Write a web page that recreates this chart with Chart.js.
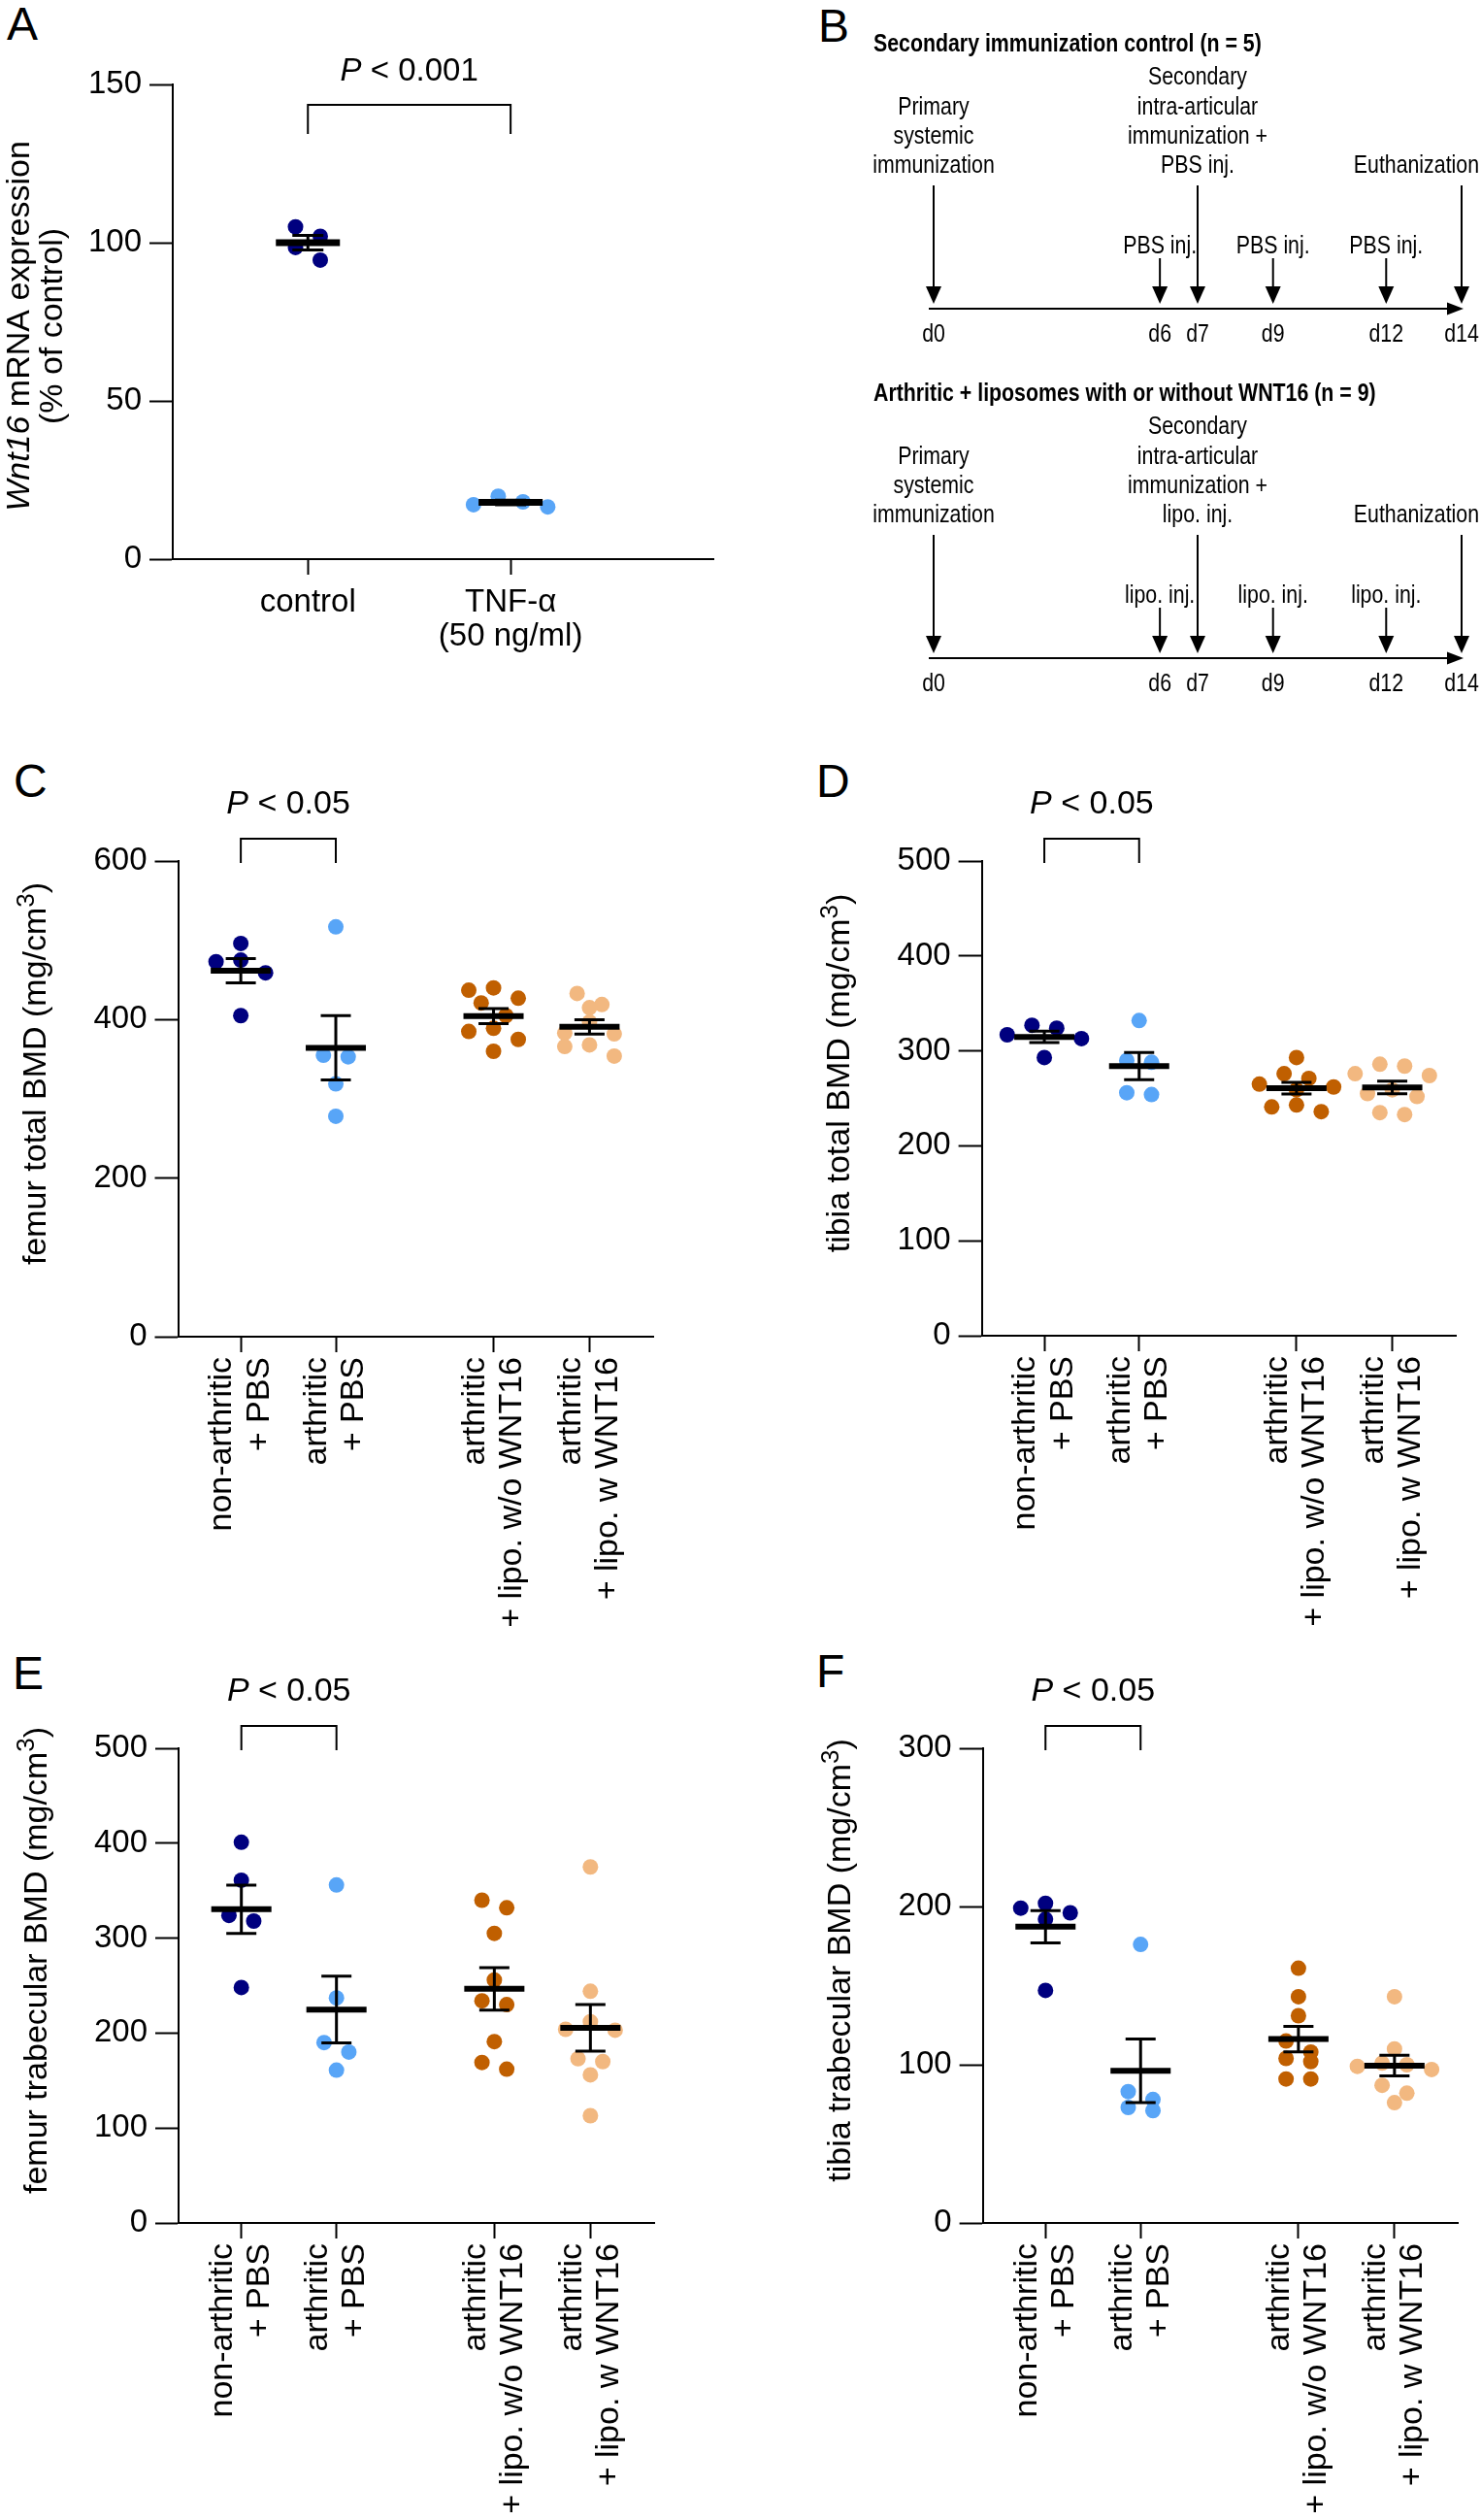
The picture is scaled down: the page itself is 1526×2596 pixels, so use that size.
<!DOCTYPE html>
<html>
<head>
<meta charset="utf-8">
<script src="https://cdn.jsdelivr.net/npm/chart.js@4.4.1/dist/chart.umd.min.js"></script>
<style>
  html, body { margin: 0; padding: 0; background: #fff; }
  body { width: 1526px; height: 2596px; position: relative; overflow: hidden;
         font-family: 'Liberation Sans', Arial, Helvetica, sans-serif; }
  canvas { position: absolute; }
  .letter { position: absolute; font-size: 48px; line-height: 48px; color: #000; }
</style>
</head>
<body>
<div class="letter" style="left:7px;top:1px">A</div>
<div class="letter" style="left:843px;top:3px">B</div>
<div class="letter" style="left:14px;top:781px">C</div>
<div class="letter" style="left:841px;top:781px">D</div>
<div class="letter" style="left:13px;top:1700px">E</div>
<div class="letter" style="left:841px;top:1698px">F</div>

<canvas id="chartA" width="780" height="720" style="left:0;top:0"></canvas>
<canvas id="chartB" width="686" height="740" style="left:840px;top:0"></canvas>
<canvas id="chartC" width="760" height="920" style="left:0;top:760px"></canvas>
<canvas id="chartD" width="766" height="920" style="left:760px;top:760px"></canvas>
<canvas id="chartE" width="760" height="916" style="left:0;top:1680px"></canvas>
<canvas id="chartF" width="766" height="916" style="left:760px;top:1680px"></canvas>

<script>
// ---- data ----
// panel A: Wnt16 mRNA (% of control)
const aCategories = ['control', ['TNF-α', '(50 ng/ml)']];
const aControl = [102, 105, 94.5, 98.5];
const aTnfAlpha = [19.9, 16.5, 18.1, 17.2];
const aTicks = [0, 50, 100, 150];

// panels C-F: group labels
const bmdCategories = [
  ['non-arthritic', '+ PBS'],
  ['arthritic', '+ PBS'],
  ['arthritic', '+ lipo. w/o WNT16'],
  ['arthritic', '+ lipo. w WNT16']
];

// C: femur total BMD
const femurTotalNonArth = [496, 475, 473, 459, 405];
const femurTotalArth = [517, 355, 353, 319, 278];
const femurTotalLipo = [440, 437, 427, 421, 405, 389, 385, 375, 360];
const femurTotalLipoWnt = [433, 419, 415, 397, 383, 382, 368, 366, 354];
const femurTotalTicks = [0, 200, 400, 600];

// D: tibia total BMD
const tibiaTotalNonArth = [327, 324, 317, 313, 293];
const tibiaTotalArth = [332, 290, 288, 256, 254];
const tibiaTotalLipo = [293, 276, 271, 265, 262, 259, 243, 241, 236];
const tibiaTotalLipoWnt = [286, 284, 276, 274, 259, 255, 252, 235, 233];
const tibiaTotalTicks = [0, 100, 200, 300, 400, 500];

// E: femur trabecular BMD
const femurTrabNonArth = [401, 361, 324, 318, 248];
const femurTrabArth = [356, 237, 190, 180, 161];
const femurTrabLipo = [340, 332, 305, 256, 234, 230, 191, 169, 162];
const femurTrabLipoWnt = [375, 244, 212, 204, 203, 173, 170, 156, 113];
const femurTrabTicks = [0, 100, 200, 300, 400, 500];

// F: tibia trabecular BMD
const tibiaTrabNonArth = [202, 199, 196, 192, 147];
const tibiaTrabArth = [176, 83, 78, 73, 71];
const tibiaTrabLipo = [161, 143, 131, 115, 108, 104, 102, 91, 91];
const tibiaTrabLipoWnt = [143, 110, 101, 100, 99, 97, 87, 82, 76];
const tibiaTrabTicks = [0, 100, 200, 300];

// B: timeline
const timelineDays = [0, 6, 7, 9, 12, 14];
const dayLabels = ['d0', 'd6', 'd7', 'd9', 'd12', 'd14'];
const majorDays = [0, 7, 14];
const minorDays = [6, 9, 12];
const timelineTitles = ['Secondary immunization control (n = 5)',
                        'Arthritic + liposomes with or without WNT16 (n = 9)'];
const minorLabels = ['PBS inj.', 'lipo. inj.'];
const primaryText = ['Primary', 'systemic', 'immunization'];
const secondaryText = [
  ['Secondary', 'intra-articular', 'immunization +', 'PBS inj.'],
  ['Secondary', 'intra-articular', 'immunization +', 'lipo. inj.']
];
const endText = 'Euthanization';

// ---- styling ----
const FONT = "'Liberation Sans', Arial, Helvetica, sans-serif";
const groupColors = ['#00007f', '#58a5f7', '#c05f00', '#f2b880'];
Chart.defaults.font.family = FONT;
Chart.defaults.color = '#000';

function segFont(seg, size) {
  const s = seg.sup ? Math.round(size * 0.76) : size;
  return (seg.italic ? 'italic ' : '') + s + 'px ' + FONT;
}

function drawSegments(ctx, segs, cx, y, size) {
  let total = 0;
  segs.forEach(seg => { ctx.font = segFont(seg, size); seg.w = ctx.measureText(seg.t).width; total += seg.w; });
  let x = cx - total / 2;
  ctx.textAlign = 'left';
  ctx.textBaseline = 'alphabetic';
  ctx.fillStyle = '#000';
  segs.forEach(seg => {
    ctx.font = segFont(seg, size);
    ctx.fillText(seg.t, x, seg.sup ? y - size * 0.36 : y);
    x += seg.w;
  });
}

// spread points that share a height sideways, like a column scatter
function slotOrder(k) {
  const o = [];
  if (k % 2) { o.push(0); for (let i = 1; o.length < k; i++) o.push(-i, i); }
  else { for (let i = 0.5; o.length < k; i++) o.push(-i, i); }
  return o.slice(0, k);
}

function swarm(chart) {
  const xs = chart.scales.x, ys = chart.scales.y;
  const slot = 25.5, rowTol = 14;
  chart.data.datasets.forEach(ds => {
    const cx = xs.getPixelForValue(ds.groupX);
    const sorted = ds.values.slice().sort((a, b) => b - a);
    const rows = [];
    sorted.forEach(v => {
      const py = ys.getPixelForValue(v);
      const row = rows[rows.length - 1];
      if (row && py - row.top < rowTol) row.items.push(v);
      else rows.push({ top: py, items: [v] });
    });
    const pts = [];
    rows.forEach(row => {
      const order = slotOrder(row.items.length);
      row.items.forEach((v, i) => pts.push({ x: xs.getValueForPixel(cx + order[i] * slot), y: v }));
    });
    ds.data = pts;
  });
  chart.update('none');
}

// mean bar + SEM whiskers
const meanSemPlugin = {
  id: 'meanSem',
  afterDatasetsDraw(chart, args, o) {
    const { ctx } = chart;
    const xs = chart.scales.x, ys = chart.scales.y;
    chart.data.datasets.forEach(ds => {
      const n = ds.values.length;
      const mean = ds.values.reduce((s, v) => s + v, 0) / n;
      const sd = Math.sqrt(ds.values.reduce((s, v) => s + (v - mean) ** 2, 0) / (n - 1));
      const sem = sd / Math.sqrt(n);
      const cx = xs.getPixelForValue(ds.groupX);
      const ym = ys.getPixelForValue(mean);
      const yt = ys.getPixelForValue(mean + sem);
      const yb = ys.getPixelForValue(mean - sem);
      ctx.save();
      ctx.strokeStyle = '#000';
      ctx.lineWidth = 3;
      ctx.beginPath();
      ctx.moveTo(cx, yt); ctx.lineTo(cx, yb);
      ctx.moveTo(cx - o.cap, yt); ctx.lineTo(cx + o.cap, yt);
      ctx.moveTo(cx - o.cap, yb); ctx.lineTo(cx + o.cap, yb);
      ctx.stroke();
      ctx.lineWidth = o.barWidth;
      ctx.beginPath();
      ctx.moveTo(cx - o.half, ym); ctx.lineTo(cx + o.half, ym);
      ctx.stroke();
      ctx.restore();
    });
  }
};

// y title, significance bracket and P text
const annotPlugin = {
  id: 'annot',
  afterDraw(chart, args, o) {
    const { ctx, chartArea } = chart;
    const xs = chart.scales.x;
    const t = o.title;
    ctx.save();
    ctx.translate(chartArea.left - t.dx, (chartArea.top + chartArea.bottom) / 2 + t.dy);
    ctx.rotate(-Math.PI / 2);
    t.lines.forEach((segs, i) => drawSegments(ctx, segs, 0, i * t.gap, t.size));
    ctx.restore();

    const b = o.bracket;
    const x1 = xs.getPixelForValue(b.from), x2 = xs.getPixelForValue(b.to);
    const yTop = chartArea.top + b.top, yLeg = chartArea.top + b.leg;
    ctx.save();
    ctx.strokeStyle = '#000';
    ctx.lineWidth = 2;
    ctx.beginPath();
    ctx.moveTo(x1, yLeg); ctx.lineTo(x1, yTop); ctx.lineTo(x2, yTop); ctx.lineTo(x2, yLeg);
    ctx.stroke();
    drawSegments(ctx, [{ t: 'P', italic: true }, { t: b.label }], (x1 + x2) / 2, chartArea.top + b.text, b.size);
    ctx.restore();
  }
};

function buildScatter(id, box, groups, colors, groupX, labels, ticks, xMax, rot, title, bracket, bars, fontSize) {
  const canvas = document.getElementById(id);
  const datasets = groups.map((vals, i) => ({
    values: vals,
    groupX: groupX[i],
    data: vals.map(v => ({ x: groupX[i], y: v })),
    backgroundColor: colors[i],
    borderWidth: 0,
    pointRadius: 8,
    pointHoverRadius: 8
  }));
  const chart = new Chart(canvas, {
    type: 'scatter',
    data: { datasets },
    options: {
      responsive: false,
      animation: false,
      events: [],
      layout: { padding: { top: box.top, right: canvas.width - box.right, left: 0, bottom: 0 } },
      plugins: {
        legend: { display: false },
        tooltip: { enabled: false },
        annot: { title, bracket },
        meanSem: bars
      },
      scales: {
        x: {
          type: 'linear', min: 0, max: xMax,
          afterBuildTicks: s => { s.ticks = groupX.map(v => ({ value: v })); },
          afterFit: s => { s.height = canvas.height - box.bottom; },
          ticks: {
            callback: (v, i) => labels[i], autoSkip: false,
            minRotation: rot, maxRotation: rot, padding: fontSize.xPad, labelOffset: fontSize.xShift,
            font: { size: fontSize.x, lineHeight: fontSize.xLine }, color: '#000'
          },
          grid: { drawOnChartArea: false, drawTicks: true, tickLength: 16, tickWidth: 2, color: '#000' },
          border: { display: true, width: 2, color: '#000' }
        },
        y: {
          min: 0, max: ticks[ticks.length - 1],
          afterBuildTicks: s => { s.ticks = ticks.map(v => ({ value: v })); },
          afterFit: s => { s.width = box.left; },
          ticks: { font: { size: fontSize.y }, padding: 8, color: '#000' },
          grid: { drawOnChartArea: false, drawTicks: true, tickLength: 24, tickWidth: 2, color: '#000' },
          border: { display: true, width: 2, color: '#000' }
        }
      }
    },
    plugins: [annotPlugin, meanSemPlugin]
  });
  swarm(chart);
  return chart;
}

// ---- panel A ----
buildScatter('chartA', { left: 178, right: 735, top: 87, bottom: 576 },
  [aControl, aTnfAlpha], [groupColors[0], groupColors[1]], [1, 2.5], aCategories, aTicks, 4, 0,
  { lines: [[{ t: 'Wnt16', italic: true }, { t: ' mRNA expression' }], [{ t: '(% of control)' }]],
    dx: 148, dy: 4.5, gap: 34, size: 34 },
  { from: 1, to: 2.5, top: 21, leg: 51, text: -4, label: ' < 0.001', size: 33 },
  { half: 33, cap: 16, barWidth: 7 },
  { x: 33, xLine: 1.05, xPad: 12, xShift: 0, y: 33 });

// ---- panels C-F ----
const bmdX = [0.66, 1.66, 3.32, 4.33];
const bmdFont = { x: 34, xLine: 1.12, xPad: 5, xShift: -19, y: 33 };
const bmdBars = { half: 31, cap: 15.5, barWidth: 6 };
const bmdBracket = { from: bmdX[0], to: bmdX[1], top: -23, leg: 2, text: -49, label: ' < 0.05', size: 34 };
function bmdTitle(text) {
  return { lines: [[{ t: text + ' (mg/cm' }, { t: '3', sup: true }, { t: ')' }]], dx: 136.5, dy: -26, gap: 0, size: 34 };
}

buildScatter('chartC', { left: 183.5, right: 673, top: 127, bottom: 617 },
  [femurTotalNonArth, femurTotalArth, femurTotalLipo, femurTotalLipoWnt], groupColors, bmdX, bmdCategories,
  femurTotalTicks, 5, 90, bmdTitle('femur total BMD'), bmdBracket, bmdBars, bmdFont);

buildScatter('chartD', { left: 251.6, right: 740, top: 127, bottom: 616 },
  [tibiaTotalNonArth, tibiaTotalArth, tibiaTotalLipo, tibiaTotalLipoWnt], groupColors, bmdX, bmdCategories,
  tibiaTotalTicks, 5, 90, bmdTitle('tibia total BMD'), bmdBracket, bmdBars, bmdFont);

buildScatter('chartE', { left: 184, right: 674, top: 121, bottom: 610 },
  [femurTrabNonArth, femurTrabArth, femurTrabLipo, femurTrabLipoWnt], groupColors, bmdX, bmdCategories,
  femurTrabTicks, 5, 90, bmdTitle('femur trabecular BMD'), bmdBracket, bmdBars, bmdFont);

buildScatter('chartF', { left: 252.6, right: 742.5, top: 121, bottom: 610 },
  [tibiaTrabNonArth, tibiaTrabArth, tibiaTrabLipo, tibiaTrabLipoWnt], groupColors, bmdX, bmdCategories,
  tibiaTrabTicks, 5, 90, bmdTitle('tibia trabecular BMD'), bmdBracket, bmdBars, bmdFont);

// ---- panel B: timelines ----
function narrowText(ctx, text, x, y, align, bold) {
  ctx.save();
  ctx.font = (bold ? 'bold ' : '') + '26px ' + FONT;
  ctx.fillStyle = '#000';
  ctx.translate(x, y);
  ctx.scale(0.82, 1);
  ctx.textAlign = align;
  ctx.textBaseline = 'alphabetic';
  ctx.fillText(text, 0, 0);
  ctx.restore();
}

function downArrow(ctx, x, y0, tip) {
  ctx.beginPath();
  ctx.moveTo(x, y0); ctx.lineTo(x, tip - 16);
  ctx.stroke();
  ctx.beginPath();
  ctx.moveTo(x - 8, tip - 18); ctx.lineTo(x + 8, tip - 18); ctx.lineTo(x, tip);
  ctx.closePath();
  ctx.fill();
}

const timelinePlugin = {
  id: 'timeline',
  afterDraw(chart) {
    const { ctx } = chart;
    const xs = chart.scales.x;
    const px = d => xs.getPixelForValue(d);
    ctx.save();
    ctx.fillStyle = '#000';
    ctx.strokeStyle = '#000';
    ctx.lineWidth = 2;
    for (let k = 0; k < 2; k++) {
      const oy = k * 360;
      narrowText(ctx, timelineTitles[k], px(0) - 62, 53 + oy, 'left', true);
      primaryText.forEach((s, i) => narrowText(ctx, s, px(0), 117.6 + oy + i * 30.4, 'center'));
      secondaryText[k].forEach((s, i) => narrowText(ctx, s, px(7), 87.2 + oy + i * 30.4, 'center'));
      narrowText(ctx, endText, px(14) + 18, 178.4 + oy, 'right');
      minorDays.forEach(d => narrowText(ctx, minorLabels[k], px(d), 261 + oy, 'center'));

      majorDays.forEach(d => downArrow(ctx, px(d), 191 + oy, 313 + oy));
      minorDays.forEach(d => downArrow(ctx, px(d), 266 + oy, 313 + oy));

      // time axis with arrow head
      const yLine = 318 + oy;
      const xEnd = px(14) + 2;
      ctx.beginPath();
      ctx.moveTo(px(0) - 5, yLine); ctx.lineTo(xEnd - 15, yLine);
      ctx.stroke();
      ctx.beginPath();
      ctx.moveTo(xEnd - 17, yLine - 6.5); ctx.lineTo(xEnd, yLine); ctx.lineTo(xEnd - 17, yLine + 6.5);
      ctx.closePath();
      ctx.fill();

      timelineDays.forEach((d, i) => narrowText(ctx, dayLabels[i], px(d), 352 + oy, 'center'));
    }
    ctx.restore();
  }
};

new Chart(document.getElementById('chartB'), {
  type: 'scatter',
  data: { datasets: [] },
  options: {
    responsive: false,
    animation: false,
    events: [],
    layout: { padding: { left: 122, right: 20, top: 0, bottom: 0 } },
    plugins: { legend: { display: false }, tooltip: { enabled: false } },
    scales: {
      x: { type: 'linear', min: timelineDays[0], max: timelineDays[timelineDays.length - 1], display: false },
      y: { min: 0, max: 1, display: false }
    }
  },
  plugins: [timelinePlugin]
});
</script>
</body>
</html>
